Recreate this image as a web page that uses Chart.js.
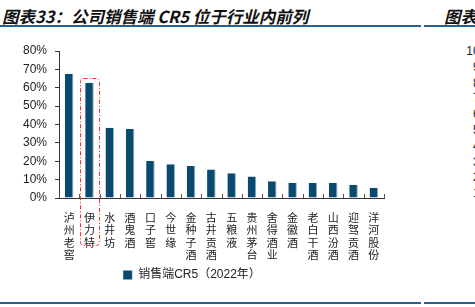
<!DOCTYPE html>
<html>
<head>
<meta charset="utf-8">
<script src="https://cdn.jsdelivr.net/npm/chart.js@4.4.1/dist/chart.umd.min.js"></script>
<style>
  body { margin: 0; width: 475px; height: 307px; overflow: hidden; background: #fff; position: relative; font-family: "Liberation Sans", Arial, sans-serif; }
  .title { position: absolute; top: 4px; font: italic bold 16.5px "Noto Sans CJK SC", sans-serif; color: #111; white-space: nowrap; }
  .rule { position: absolute; height: 2px; background: #2b5f8c; }
  #wrap { position: absolute; left: 0; top: 30px; width: 412px; height: 265px; }
  #side { position: absolute; left: 453px; top: 44px; width: 40px; text-align: right; font-size: 12px; color: #222; }
  #side div { height: 15.8px; line-height: 15.8px; }
</style>
</head>
<body>
<div class="title" style="left:2px">图表33：公司销售端 CR5 位于行业内前列</div>
<div class="title" style="left:444px">图表</div>
<div class="rule" style="left:0; top:25px; width:421px"></div>
<div class="rule" style="left:424px; top:25px; width:51px"></div>
<div class="rule" style="left:0; top:302px; width:421px"></div>
<div class="rule" style="left:424px; top:302px; width:51px"></div>
<div id="side"></div>
<div id="wrap"><canvas id="c"></canvas></div>
<script>
// companies and their sales-side CR5 (2022)
const companies = ['泸州老窖', '伊力特', '水井坊', '酒鬼酒', '口子窖', '今世缘', '金种子酒', '古井贡酒',
    '五粮液', '贵州茅台', '舍得酒业', '金徽酒', '老白干酒', '山西汾酒', '迎驾贡酒', '洋河股份'];
const cr5 = [67.5, 62.7, 38.2, 37.6, 20.1, 18.3, 17.4, 15.5, 13.5, 11.7, 9.1, 8.2, 8.1, 8.1, 7.2, 5.6];
const seriesName = '销售端CR5（2022年）';
const highlightIndex = 1;
// cut-off axis of the neighbouring figure on the right
const sideTicks = ['1000', '900', '800', '700', '600', '500', '400', '300', '200', '100', '0'];

const side = document.getElementById('side');
sideTicks.forEach(t => {
    const d = document.createElement('div');
    d.textContent = t;
    side.appendChild(d);
});

// red dash-dot box round the highlighted company + small ticks pointing up from the x axis
const extras = {
    id: 'extras',
    afterDraw(chart) {
        const ctx = chart.ctx;
        const x = chart.scales.x, y = chart.scales.y;
        const area = chart.chartArea;
        const step = x.getPixelForValue(1) - x.getPixelForValue(0);

        ctx.save();
        ctx.strokeStyle = '#555';
        ctx.lineWidth = 1;
        for (let i = 0; i <= companies.length; i++) {
            const px = Math.round(x.getPixelForValue(i) - step / 2) + 0.5;
            ctx.beginPath();
            ctx.moveTo(px, area.bottom);
            ctx.lineTo(px, area.bottom - 4);
            ctx.stroke();
        }

        const cx = x.getPixelForValue(highlightIndex);
        const half = step * 0.46;
        const top = y.getPixelForValue(cr5[highlightIndex]) - 4.5;
        const bottom = area.bottom + 47;
        ctx.strokeStyle = '#ff2a2a';
        ctx.setLineDash([4, 2, 1, 2]);
        ctx.beginPath();
        ctx.roundRect(Math.round(cx - half) + 0.5, Math.round(top) + 0.5, Math.round(half * 2), Math.round(bottom - top), 3);
        ctx.stroke();
        ctx.restore();
    }
};

new Chart(document.getElementById('c'), {
    type: 'bar',
    data: {
        labels: companies.map(n => n.split('')),
        datasets: [{
            label: seriesName,
            data: cr5,
            backgroundColor: '#0a4a6f',
            borderColor: '#8db0c6',
            borderWidth: { top: 0, right: 1, left: 0, bottom: 0 },
            borderSkipped: false,
            categoryPercentage: 1,
            barPercentage: 0.42
        }]
    },
    options: {
        responsive: true,
        maintainAspectRatio: false,
        animation: false,
        layout: { padding: { top: 21, right: 28, left: 0, bottom: 4 } },
        plugins: {
            tooltip: { enabled: false },
            legend: {
                position: 'bottom',
                labels: {
                    boxWidth: 9, boxHeight: 9, padding: 4,
                    color: '#222',
                    font: { size: 12, family: '"Liberation Sans", "Noto Sans CJK SC", sans-serif' }
                }
            }
        },
        scales: {
            x: {
                afterFit(s) { s.height = 67; },
                grid: { display: false },
                border: { color: '#333', width: 1 },
                ticks: {
                    maxRotation: 0, minRotation: 0, autoSkip: false,
                    padding: 5, color: '#222',
                    font: { size: 11, family: '"Noto Sans CJK SC", sans-serif', lineHeight: 1.15 }
                }
            },
            y: {
                min: 0, max: 80,
                afterFit(s) { s.width = 59; },
                grid: { drawOnChartArea: false, tickLength: 4, color: '#333' },
                border: { color: '#333', width: 1 },
                ticks: {
                    stepSize: 10, autoSkip: false,
                    padding: 8, color: '#222',
                    font: { size: 12, family: '"Liberation Sans", Arial, sans-serif' },
                    callback: v => v + '%'
                }
            }
        }
    },
    plugins: [extras]
});
</script>
</body>
</html>
